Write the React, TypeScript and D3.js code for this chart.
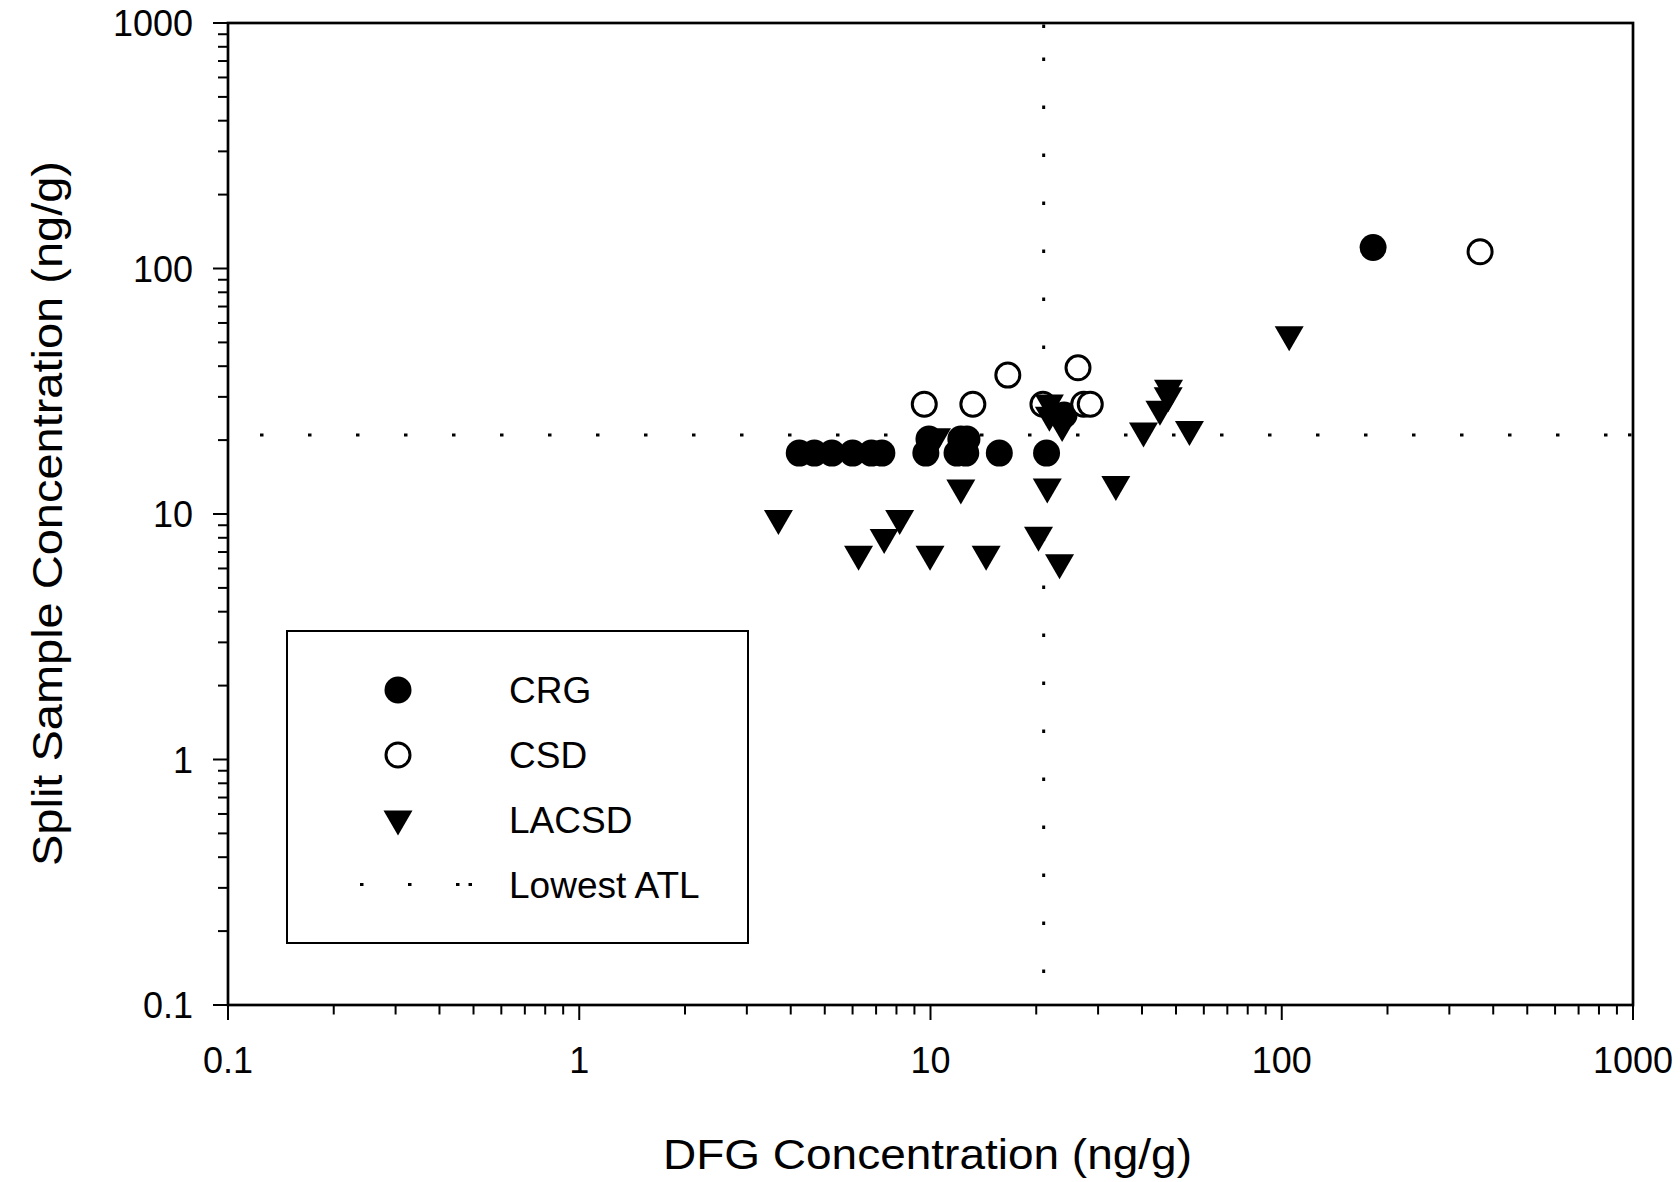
import React from "react";
import * as d3 from "d3";

const crgX = [4.23, 4.67, 5.24, 6.0, 6.79, 7.27, 9.7, 9.9, 11.9, 12.6, 12.2, 12.7, 15.7, 21.4, 24.0, 182];
const crgY = [17.7, 17.7, 17.7, 17.7, 17.7, 17.7, 17.7, 20.2, 17.7, 17.7, 20.2, 20.2, 17.7, 17.7, 25.3, 121.8];

const csdX = [9.6, 13.2, 16.6, 20.9, 26.3, 27.3, 28.5, 367];
const csdY = [28, 28, 36.8, 28, 39.4, 28, 28, 117];

const lacsdX = [21.8, 21.8, 23.7, 47.6, 47.5, 45, 40.4, 54.6, 21.5, 33.7, 20.3, 23.3, 12.2, 3.69, 8.17, 7.38, 6.24, 9.97, 14.4, 10.4, 105];
const lacsdY = [27.3, 24.3, 22.1, 31.3, 29.2, 25.7, 21.0, 21.3, 12.4, 12.7, 7.9, 6.1, 12.3, 9.24, 9.24, 7.73, 6.6, 6.6, 6.6, 19.9, 51.8];

const atlX = 21;
const atlY = 21;

const majorTicks = [0.1, 1, 10, 100, 1000];
const tickLabels = ["0.1", "1", "10", "100", "1000"];

const legendLabels = ["CRG", "CSD", "LACSD", "Lowest ATL"];

const FONT = "'Liberation Sans', Arial, Helvetica, sans-serif";

const L = 228, R = 1633, T = 23, B = 1005;

export default function App() {
  const x = d3.scaleLog().domain([0.1, 1000]).range([L, R]);
  const y = d3.scaleLog().domain([0.1, 1000]).range([B, T]);
  const allTicks = x.ticks();
  const isMajor = (v: number) => Math.abs(Math.log10(v) - Math.round(Math.log10(v))) < 1e-9;
  const tri = "M-14.5,-12.5L14.5,-12.5L0,12.5Z";

  return (
    <svg width={1680} height={1182} style={{ position: "absolute", left: 0, top: 0, background: "#fff" }}>
      <rect x={0} y={0} width={1680} height={1182} fill="#fff" />
      {/* ATL dotted lines */}
      <path d={`M${L},${y(atlY)}L${R},${y(atlY)}`} stroke="#000" strokeWidth={3} strokeDasharray="3.5 44.5" strokeDashoffset={16} fill="none" />
      <path d={`M${R - 5},${y(atlY)}L${R - 1.5},${y(atlY)}`} stroke="#000" strokeWidth={3} fill="none" />
      <path d={`M${x(atlX)},${B}L${x(atlX)},${T}`} stroke="#000" strokeWidth={3} strokeDasharray="3.5 44.5" strokeDashoffset={16} fill="none" />
      <path d={`M${x(atlX)},${T + 5}L${x(atlX)},${T + 1.5}`} stroke="#000" strokeWidth={3} fill="none" />

      {/* data */}
      {crgX.map((v, i) => (
        <circle key={"crg" + i} cx={x(v)} cy={y(crgY[i])} r={13.5} fill="#000" />
      ))}
      {csdX.map((v, i) => (
        <circle key={"csd" + i} cx={x(v)} cy={y(csdY[i])} r={12} fill="#fff" stroke="#000" strokeWidth={3} />
      ))}
      {lacsdX.map((v, i) => (
        <path key={"la" + i} d={tri} transform={`translate(${x(v)},${y(lacsdY[i])})`} fill="#000" />
      ))}

      {/* frame */}
      <rect x={L} y={T} width={R - L} height={B - T} fill="none" stroke="#000" strokeWidth={2.7} />

      {/* x ticks */}
      {allTicks.map((v, i) => (
        <line key={"xt" + i} x1={x(v)} x2={x(v)} y1={B} y2={B + (isMajor(v) ? 15 : 9.5)} stroke="#000" strokeWidth={2} />
      ))}
      {allTicks.map((v, i) => (
        <line key={"yt" + i} y1={y(v)} y2={y(v)} x1={L} x2={L - (isMajor(v) ? 15 : 10)} stroke="#000" strokeWidth={2} />
      ))}
      {majorTicks.map((v, i) => (
        <text key={"xl" + i} x={x(v)} y={1073} textAnchor="middle" fontFamily={FONT} fontSize={36} fill="#000">
          {tickLabels[i]}
        </text>
      ))}
      {majorTicks.map((v, i) => (
        <text key={"yl" + i} x={193} y={y(v) + 13} textAnchor="end" fontFamily={FONT} fontSize={36} fill="#000">
          {tickLabels[i]}
        </text>
      ))}

      {/* axis titles */}
      <text x={663} y={1169} fontFamily={FONT} fontSize={42} textLength={529} lengthAdjust="spacingAndGlyphs" fill="#000">
        DFG Concentration (ng/g)
      </text>
      <text transform={`translate(62,${(T + B) / 2 + 352}) rotate(-90)`} fontFamily={FONT} fontSize={42} textLength={705} lengthAdjust="spacingAndGlyphs" fill="#000">
        Split Sample Concentration (ng/g)
      </text>

      {/* legend */}
      <rect x={287} y={631} width={461} height={312} fill="#fff" stroke="#000" strokeWidth={2} />
      <circle cx={398} cy={690} r={13.5} fill="#000" />
      <circle cx={398} cy={755} r={12} fill="#fff" stroke="#000" strokeWidth={3} />
      <path d={tri} transform="translate(398,823)" fill="#000" />
      <path d="M328,884.5L468,884.5" stroke="#000" strokeWidth={3} strokeDasharray="3.5 44.5" strokeDashoffset={16} fill="none" />
      <path d="M468.5,884.5L472,884.5" stroke="#000" strokeWidth={3} fill="none" />
      {legendLabels.map((s, i) => (
        <text key={"lg" + i} x={509} y={703 + 65 * i} fontFamily={FONT} fontSize={37} fill="#000">
          {s}
        </text>
      ))}
    </svg>
  );
}
